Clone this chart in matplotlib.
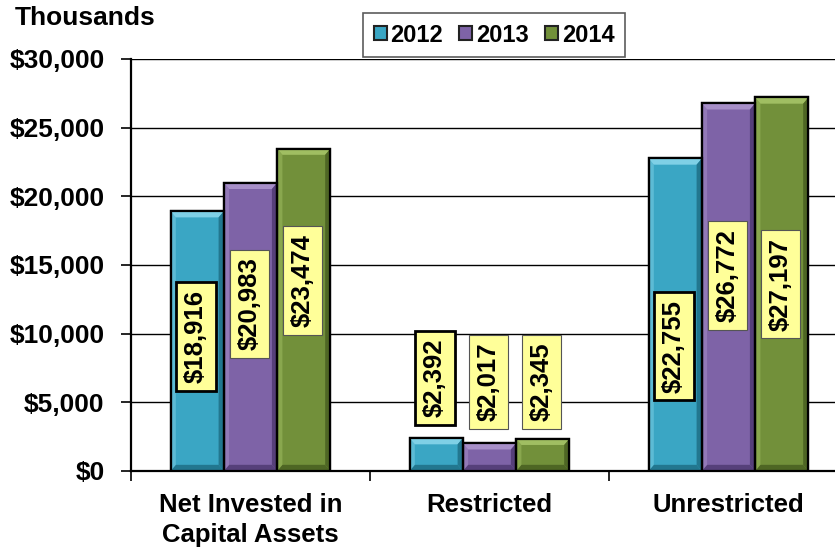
import numpy as np
import matplotlib.pyplot as plt
from matplotlib.patches import Patch, Polygon
from matplotlib.ticker import FuncFormatter

plt.rcParams['font.family'] = ['Liberation Sans', 'DejaVu Sans']
plt.rcParams['font.weight'] = 'bold'

categories = ["Net Invested in\nCapital Assets", "Restricted", "Unrestricted"]
years = ["2012", "2013", "2014"]
v2012 = [18916, 2392, 22755]
v2013 = [20983, 2017, 26772]
v2014 = [23474, 2345, 27197]
series = [v2012, v2013, v2014]

colors = ["#3AA6C4", "#7E63A7", "#72903A"]
light = ["#7FD0E6", "#A78FC8", "#A0BE62"]
dark = ["#22778F", "#56407A", "#4E6624"]
# label centre heights (layout only)
label_y = [[9800, 6770, 9100], [12160, 6480, 14230], [13870, 6480, 13610]]

fig = plt.figure(figsize=(8.35, 5.48), dpi=100)
ax = fig.add_axes([131 / 835, 77 / 548, 704 / 835, 412 / 548])

x = np.arange(len(categories))
w = 0.223
bx = 0.022   # bevel size in x (data)
by = 450     # bevel size in y (data)

for i, vals in enumerate(series):
    bars = ax.bar(x + (i - 1) * w, vals, w, color=colors[i], edgecolor="black",
                  linewidth=1.6, zorder=3, label=years[i])
    for b in bars:
        x0, x1 = b.get_x(), b.get_x() + b.get_width()
        h = b.get_height()
        # bevel faces
        ax.add_patch(Polygon([(x0, h), (x1, h), (x1 - bx, h - by), (x0 + bx, h - by)],
                             closed=True, color=light[i], lw=0, zorder=3.1))
        ax.add_patch(Polygon([(x1, 0), (x1, h), (x1 - bx, h - by), (x1 - bx, by)],
                             closed=True, color=dark[i], lw=0, zorder=3.1))
        ax.add_patch(Polygon([(x0, 0), (x1, 0), (x1 - bx, by), (x0 + bx, by)],
                             closed=True, color=dark[i], lw=0, zorder=3.1))
        ax.add_patch(Polygon([(x0, 0), (x0, h), (x0 + bx, h - by), (x0 + bx, by)],
                             closed=True, color=light[i], alpha=0.5, lw=0, zorder=3.1))
        ax.add_patch(Polygon([(x0, 0), (x1, 0), (x1, h), (x0, h)], closed=True,
                             fill=False, ec="black", lw=1.6, zorder=3.2))
    for j, v in enumerate(vals):
        ax.text(x[j] + (i - 1) * w - 0.005, label_y[i][j], "${:,}".format(v),
                rotation=90, ha="center", va="center", fontsize=18.5,
                fontweight="bold", zorder=5,
                bbox=dict(boxstyle="square,pad=0.3", fc="#FFFF99",
                          ec="black" if i == 0 else "#555555",
                          lw=2.0 if i == 0 else 0.8))

ax.set_ylim(0, 30000)
ax.set_xlim(-0.5, 704 / 239 - 0.5)
ax.set_yticks(np.arange(0, 30001, 5000))
ax.yaxis.set_major_formatter(FuncFormatter(lambda v, p: "${:,.0f}".format(v)))
ax.grid(axis="y", color="black", linewidth=1.0, zorder=0)
ax.set_xticks(x)
ax.set_xticklabels(categories, fontsize=18.5, fontweight="bold", linespacing=1.3)
ax.set_xticks([-0.5, 0.5, 1.5], minor=True)
ax.tick_params(axis="x", which="major", length=0, pad=16)
ax.tick_params(axis="x", which="minor", length=7, width=1.2, color="black")
ax.tick_params(axis="y", length=7, width=1.2, pad=12, labelsize=19)
for lab in ax.get_yticklabels():
    lab.set_fontweight("bold")
for s in ["top", "right"]:
    ax.spines[s].set_visible(False)
ax.spines["left"].set_linewidth(1.6)
ax.spines["bottom"].set_linewidth(1.6)

fig.text(15 / 835, 1 - 18 / 548, "Thousands", fontsize=19, fontweight="bold",
         ha="left", va="center")

handles = [Patch(facecolor=colors[i], edgecolor="#222222", linewidth=1.5) for i in range(3)]
leg = fig.legend(handles, years, loc="center", bbox_to_anchor=(494 / 835, 1 - 35 / 548),
                 ncol=3, frameon=True, fancybox=False, fontsize=17,
                 handlelength=0.55, handleheight=0.55, handletextpad=0.15,
                 columnspacing=0.7, borderpad=0.45, borderaxespad=0)
leg.get_frame().set_edgecolor("#333333")
leg.get_frame().set_linewidth(1.2)
for t in leg.get_texts():
    t.set_fontweight("bold")

fig.savefig("out.png", dpi=100)
